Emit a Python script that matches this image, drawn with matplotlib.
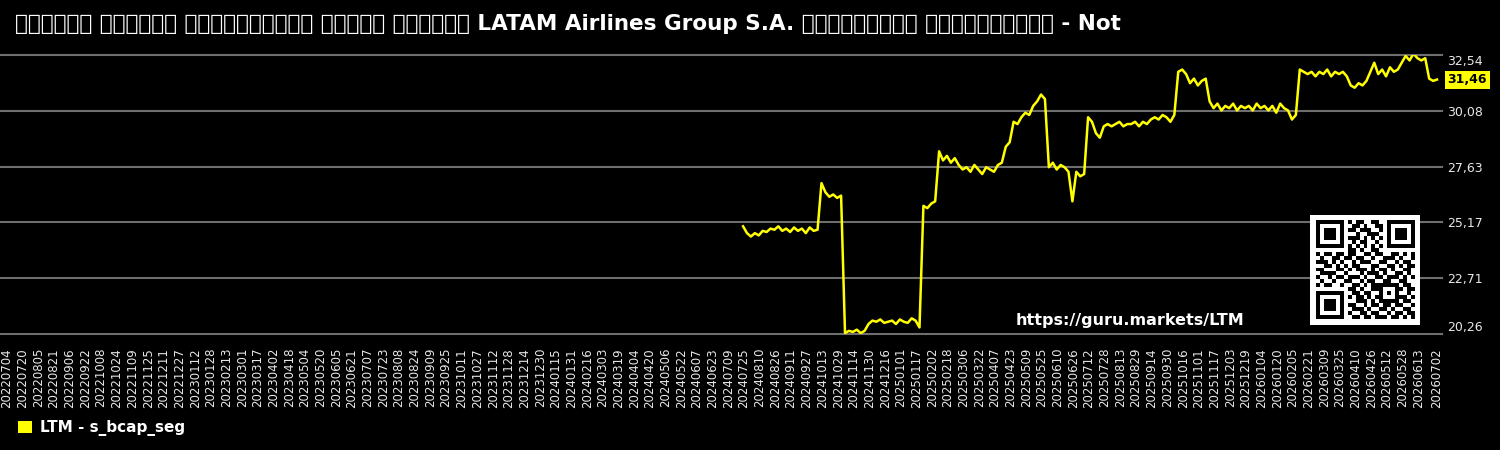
import numpy as np
import pandas as pd
import matplotlib
matplotlib.use("Agg")
import matplotlib.pyplot as plt
import matplotlib.dates as mdates
from matplotlib.patches import Patch

# Chart text
title = ("ಕಂಪನಿಯ ಪುಸ್ತಕ ಬಂಡವಾಳೀಕರಣ ಪಾಲಿನ ಚಾರ್ಟ್ LATAM Airlines Group S.A. "
         "ಮಾರುಕಟ್ಟೆ ವಿಭಾಗದಲ್ಲಿ - Not")
series_name = "LTM - s_bcap_seg"
watermark = "https://guru.markets/LTM"

# Series: one value every 4 days starting 2024-07-24
start_date = "2024-07-24"
values = [
    25.0, 24.7, 24.55, 24.7, 24.6, 24.8, 24.75, 24.9, 24.85, 25.0,
    24.8, 24.9, 24.75, 24.95, 24.8, 24.9, 24.7, 24.95, 24.8, 24.85,
    26.9, 26.5, 26.3, 26.4, 26.25, 26.35,
    20.3, 20.4, 20.35, 20.45, 20.3, 20.4,
    20.7, 20.85, 20.8, 20.9, 20.75, 20.8, 20.85, 20.7, 20.9, 20.8, 20.75, 20.95, 20.85, 20.55,
    25.9, 25.8, 26.0, 26.1,
    28.3, 27.9, 28.1, 27.8, 28.0, 27.7,
    27.5, 27.6, 27.4, 27.7, 27.5, 27.3, 27.6, 27.5, 27.4, 27.7,
    27.8, 28.5, 28.7, 29.6, 29.5, 29.8, 30.0, 29.9, 30.3, 30.5, 30.8,
    30.6,
    27.6, 27.8, 27.5, 27.7, 27.6, 27.4,
    26.1,
    27.4, 27.2, 27.3,
    29.8, 29.6, 29.1, 28.9, 29.4,
    29.5, 29.4, 29.5, 29.6, 29.4, 29.5, 29.5, 29.6, 29.4, 29.6, 29.5,
    29.7, 29.8, 29.7, 29.9, 29.8, 29.6, 29.9,
    31.8, 31.9, 31.7,
    31.3, 31.5, 31.2, 31.4, 31.5,
    30.5, 30.2, 30.4, 30.1, 30.3, 30.2, 30.4, 30.1, 30.3, 30.2, 30.3,
    30.1, 30.4, 30.2, 30.3, 30.1, 30.3, 30.0, 30.4, 30.2, 30.1, 29.7,
    29.9,
    31.9, 31.8, 31.7, 31.8, 31.6, 31.8, 31.7, 31.9, 31.6, 31.8, 31.7, 31.8, 31.6,
    31.2, 31.1, 31.3, 31.2, 31.4,
    31.8, 32.2, 31.7, 31.9, 31.6, 32.0, 31.8, 31.9,
    32.2, 32.5, 32.3, 32.6, 32.4, 32.3, 32.4,
    31.5, 31.4, 31.46,
]
last_value = 31.46

# Axis ticks
y_ticks = [20.26, 22.71, 25.17, 27.63, 30.08, 32.54]
x_first = "2022-07-04"
x_last = "2026-07-02"
x_tick_dates = list(pd.date_range(x_first, "2026-06-13", freq="16D")) + [pd.Timestamp(x_last)]

# QR code picture in the corner (25 x 25 modules)
qr_rows = [
    "1111111" + "0" + "101100110" + "0" + "1111111",
    "1000001" + "0" + "011010011" + "0" + "1000001",
    "1011101" + "0" + "110111001" + "0" + "1011101",
    "1011101" + "0" + "001001110" + "0" + "1011101",
    "1011101" + "0" + "111010101" + "0" + "1011101",
    "1000001" + "0" + "010110010" + "0" + "1000001",
    "1111111" + "0" + "101010101" + "0" + "1111111",
    "00000000" + "110100110" + "00000000",
    "101101" + "1" + "011001101100110101",
    "010011" + "0" + "110110010011101001",
    "111010" + "1" + "001011100110010110",
    "001101" + "0" + "101100011001101011",
    "110001" + "1" + "010111010110100110",
    "011110" + "0" + "100010111010011010",
    "100101" + "1" + "011101001101110101",
    "010010" + "0" + "110010110011001100",
    "101100" + "1" + "001101011" + "11111" + "0110",
    "00000000" + "11010011" + "10001" + "1011",
    "1111111" + "0" + "01101100" + "10101" + "0010",
    "1000001" + "0" + "10110101" + "10001" + "1101",
    "1011101" + "0" + "00111010" + "11111" + "0110",
    "1011101" + "0" + "11001011011011001",
    "1011101" + "0" + "01110100110100110",
    "1000001" + "0" + "10011011001011011",
    "1111111" + "0" + "01101101110110101",
]

yellow = "#ffff00"
W, H = 1500, 450

dates = pd.date_range(start_date, periods=len(values), freq="4D")

fig = plt.figure(figsize=(15, 4.5), dpi=100, facecolor="black")
ax = fig.add_axes([0, 1 - 334 / H, 1442 / W, (334 - 55) / H])
ax.set_facecolor("black")
for s in ax.spines.values():
    s.set_visible(False)

for v in y_ticks:
    ax.axhline(v, color="#6e6e6e", lw=1.5, zorder=0, clip_on=False)

ax.plot(dates, values, color=yellow, lw=1.8, zorder=3)

# x range: small padding either side of first/last label
px_per_day = 1430 / (pd.Timestamp(x_last) - pd.Timestamp(x_first)).days
ax.set_xlim(mdates.date2num(pd.Timestamp(x_first)) - 7 / px_per_day,
            mdates.date2num(pd.Timestamp(x_last)) + 5 / px_per_day)
ax.set_ylim(y_ticks[0], y_ticks[-1])

ax.set_xticks(x_tick_dates)
ax.set_xticklabels([d.strftime("%Y%m%d") for d in x_tick_dates], rotation=90,
                   fontsize=8.5, color="#e8e8e8")
ax.tick_params(axis="x", length=0, pad=10)

ax.yaxis.tick_right()
ax.set_yticks(y_ticks)
ax.set_yticklabels([f"{v:.2f}".replace(".", ",") for v in y_ticks], fontsize=9, color="#e8e8e8")
ax.tick_params(axis="y", length=0, pad=4)
ylabels = ax.get_yticklabels()
ylabels[0].set_va("bottom")
ylabels[-1].set_va("top")

# current value tag
ax.annotate(f"{last_value:.2f}".replace(".", ","), xy=(1, last_value),
            xycoords=("axes fraction", "data"), xytext=(4, 0), textcoords="offset points",
            ha="left", va="center", fontsize=9, fontweight="bold", color="black",
            bbox=dict(boxstyle="square,pad=0.2", fc=yellow, ec="none"), annotation_clip=False)

fig.text(15 / W, 1 - 24 / H, title, color="white", fontsize=15.5, fontweight="bold",
         ha="left", va="center")

fig.text(1130 / W, 1 - 320 / H, watermark, color="white", fontsize=11.5,
         fontweight="bold", ha="center", va="center")

# QR code
qr = np.array([[int(c) for c in r] for r in qr_rows])
qax = fig.add_axes([1310 / W, 1 - 325 / H, 110 / W, 110 / H])
qax.set_facecolor("white")
qax.imshow(qr, cmap="gray_r", vmin=0, vmax=1, interpolation="nearest",
           extent=(1.4, 26.4, 26.4, 1.4))
qax.set_xlim(0, 27.8)
qax.set_ylim(27.8, 0)
qax.set_xticks([])
qax.set_yticks([])
for s in qax.spines.values():
    s.set_visible(False)

fig.legend(handles=[Patch(facecolor=yellow, edgecolor="none", label=series_name)],
           loc="lower left", bbox_to_anchor=(0.003, 0.0), frameon=False,
           handlelength=0.9, handleheight=0.9, handletextpad=0.5,
           prop={"size": 11, "weight": "bold"}, labelcolor="white")

fig.savefig("out.png", dpi=100, facecolor="black")
